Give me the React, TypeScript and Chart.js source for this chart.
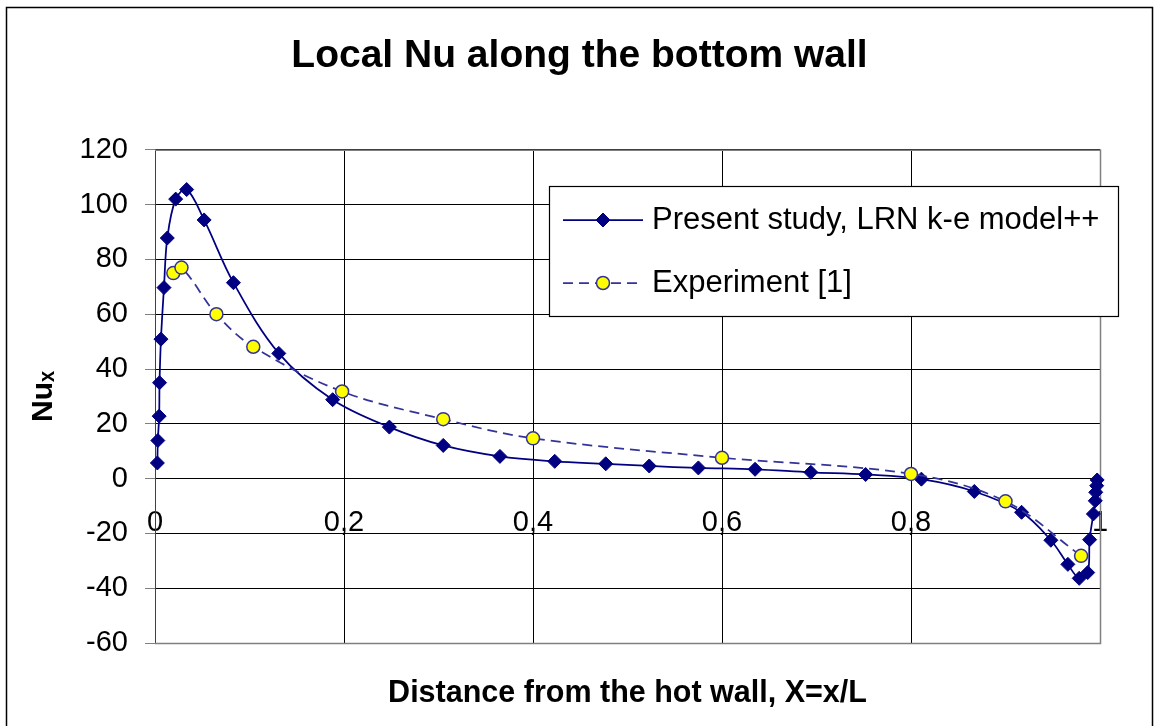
import React, { useEffect, useRef } from 'react';
import { Chart, registerables } from 'chart.js';

Chart.register(...registerables);

// ---- data ----
const presentX = [
  0.0025, 0.003, 0.0044, 0.0048, 0.0063, 0.0095, 0.013, 0.0219, 0.0335, 0.052,
  0.083, 0.131, 0.188, 0.248, 0.305, 0.365, 0.423, 0.477, 0.523, 0.575,
  0.635, 0.694, 0.752, 0.811, 0.867, 0.917, 0.948, 0.966, 0.978, 0.987,
  0.989, 0.993, 0.995, 0.9955, 0.9965, 0.997,
];
const presentY = [
  5.7, 13.9, 22.8, 35, 50.9, 69.7, 87.8, 102, 105.5, 94.4,
  71.5, 45.7, 28.8, 18.8, 12.1, 8.1, 6.3, 5.4, 4.6, 3.9,
  3.4, 2.3, 1.5, -0.2, -4.7, -12.3, -22.5, -31.3, -36.4, -34.3,
  -22.3, -12.9, -8.1, -5.0, -2.6, -0.5,
];
const experimentX = [0.0194, 0.028, 0.065, 0.104, 0.198, 0.305, 0.4, 0.6, 0.8, 0.9, 0.98];
const experimentY = [75, 77, 60, 48.1, 31.8, 21.7, 14.7, 7.6, 1.7, -8.3, -28.2];

const xTickLabels = ['0', '0,2', '0,4', '0,6', '0,8', '1'];
const seriesNames = ['Present study, LRN k-e model++', 'Experiment [1]'];
const chartTitle = 'Local Nu along the bottom wall';
const xAxisTitle = 'Distance from the hot wall, X=x/L';
const yAxisTitle = 'Nuₓ';

const FONT = "'Liberation Sans', Arial, sans-serif";
const W = 1159;
const H = 726;

const backgroundPlugin = {
  id: 'bgFrame',
  beforeDraw(chart: any) {
    const ctx = chart.ctx;
    ctx.save();
    ctx.fillStyle = '#ffffff';
    ctx.fillRect(0, 0, chart.width, chart.height);
    ctx.restore();
  },
  beforeDatasetsDraw(chart: any) {
    const { ctx, chartArea } = chart;
    ctx.save();
    ctx.strokeStyle = '#808080';
    ctx.lineWidth = 1.5;
    ctx.beginPath();
    ctx.moveTo(chartArea.left, chartArea.top + 0.5);
    ctx.lineTo(chartArea.right + 0.5, chartArea.top + 0.5);
    ctx.lineTo(chartArea.right + 0.5, chartArea.bottom + 0.5);
    ctx.lineTo(chartArea.left, chartArea.bottom + 0.5);
    ctx.stroke();
    ctx.restore();
  },
  afterDraw(chart: any) {
    const ctx = chart.ctx;
    ctx.save();
    ctx.strokeStyle = '#000000';
    ctx.lineWidth = 1.5;
    ctx.strokeRect(6.5, 7.5, chart.width - 13, chart.height + 20);
    ctx.restore();
  },
};

const legendPlugin = {
  id: 'boxLegend',
  afterDraw(chart: any) {
    const ctx = chart.ctx;
    const boxL = 549;
    const boxT = 186;
    const boxW = 569;
    const boxH = 130;
    ctx.save();
    ctx.fillStyle = '#ffffff';
    ctx.fillRect(boxL, boxT, boxW, boxH);
    ctx.strokeStyle = '#000000';
    ctx.lineWidth = 1.2;
    ctx.strokeRect(boxL + 0.5, boxT + 0.5, boxW, boxH);

    const rows = [220, 283];
    chart.data.datasets.forEach((ds: any, i: number) => {
      const y = rows[i];
      const x0 = 563;
      const x1 = 643;
      const xm = (x0 + x1) / 2;
      ctx.strokeStyle = ds.borderColor;
      ctx.lineWidth = ds.borderWidth;
      ctx.setLineDash(ds.borderDash || []);
      ctx.beginPath();
      ctx.moveTo(x0, y);
      ctx.lineTo(x1, y);
      ctx.stroke();
      ctx.setLineDash([]);
      ctx.fillStyle = ds.pointBackgroundColor;
      ctx.strokeStyle = ds.pointBorderColor;
      ctx.lineWidth = ds.pointBorderWidth;
      const r = ds.pointRadius;
      ctx.beginPath();
      if (ds.pointStyle === 'rectRot') {
        ctx.moveTo(xm - r, y);
        ctx.lineTo(xm, y - r);
        ctx.lineTo(xm + r, y);
        ctx.lineTo(xm, y + r);
        ctx.closePath();
      } else {
        ctx.arc(xm, y, r, 0, Math.PI * 2);
      }
      ctx.fill();
      ctx.stroke();
      ctx.fillStyle = '#000000';
      ctx.font = `31px ${FONT}`;
      ctx.textAlign = 'left';
      ctx.textBaseline = 'middle';
      ctx.fillText(ds.label, 652, y);
    });
    ctx.restore();
  },
};

export default function App() {
  const canvasRef = useRef<HTMLCanvasElement | null>(null);

  useEffect(() => {
    if (!canvasRef.current) return;
    const chart = new Chart(canvasRef.current, {
      type: 'line',
      data: {
        datasets: [
          {
            label: seriesNames[0],
            data: presentX.map((x, i) => ({ x, y: presentY[i] })),
            borderColor: '#000080',
            backgroundColor: '#000080',
            borderWidth: 1.75,
            pointStyle: 'rectRot',
            pointRadius: 7,
            pointBackgroundColor: '#000080',
            pointBorderColor: '#000080',
            pointBorderWidth: 1,
            tension: 0.35,
            clip: false,
            order: 2,
          } as any,
          {
            label: seriesNames[1],
            data: experimentX.map((x, i) => ({ x, y: experimentY[i] })),
            borderColor: '#333399',
            backgroundColor: '#FFFF00',
            borderWidth: 1.75,
            borderDash: [10, 6],
            pointStyle: 'circle',
            pointRadius: 6.5,
            pointBackgroundColor: '#FFFF00',
            pointBorderColor: '#333399',
            pointBorderWidth: 1.5,
            tension: 0.35,
            clip: false,
            order: 1,
          } as any,
        ],
      },
      options: {
        responsive: false,
        animation: false,
        events: [],
        layout: { padding: 0 },
        plugins: {
          legend: { display: false },
          tooltip: { enabled: false },
          title: {
            display: true,
            text: chartTitle,
            color: '#000000',
            font: { family: FONT, size: 39, weight: 'bold' },
            padding: { top: 33, bottom: 70 },
          },
        },
        scales: {
          x: {
            type: 'linear',
            position: { y: 0 } as any,
            min: 0,
            max: 1,
            ticks: {
              stepSize: 0.2,
              autoSkip: false,
              maxRotation: 0,
              color: '#000000',
              padding: 27,
              font: { family: FONT, size: 29 },
              callback: (_v: any, index: number) => xTickLabels[index],
            },
            grid: { color: '#000000', lineWidth: 1, drawTicks: false },
            border: { display: true, color: '#000000', width: 1 },
          },
          xTitle: {
            type: 'linear',
            axis: 'x',
            position: 'bottom',
            min: 0,
            max: 1,
            ticks: { display: false },
            grid: { display: false, drawTicks: false },
            border: { display: false },
            title: {
              display: true,
              text: xAxisTitle,
              color: '#000000',
              font: { family: FONT, size: 30.5, weight: 'bold' },
              padding: { top: 0, bottom: 14 },
            },
            afterFit: (scale: any) => {
              scale.height = 83;
            },
          } as any,
          y: {
            type: 'linear',
            min: -60,
            max: 120,
            ticks: {
              stepSize: 20,
              color: '#000000',
              padding: 17,
              font: { family: FONT, size: 29 },
            },
            grid: { color: '#000000', lineWidth: 1, tickLength: 10, tickColor: '#808080' },
            border: { display: true, color: '#404040', width: 1 },
            title: {
              display: true,
              text: yAxisTitle,
              color: '#000000',
              font: { family: FONT, size: 30, weight: 'bold' },
              padding: { top: 26, bottom: 0 },
            },
            afterFit: (scale: any) => {
              scale.width = 155;
            },
          },
          yRight: {
            type: 'linear',
            axis: 'y',
            position: 'right',
            min: -60,
            max: 120,
            ticks: { display: false },
            grid: { display: false, drawTicks: false },
            border: { display: false },
            afterFit: (scale: any) => {
              scale.width = 59;
            },
          } as any,
        },
      },
      plugins: [backgroundPlugin, legendPlugin],
    });
    return () => chart.destroy();
  }, []);

  return (
    <div style={{ position: 'absolute', left: 0, top: 0, width: W, height: H }}>
      <canvas ref={canvasRef} width={W} height={H} style={{ display: 'block' }} />
    </div>
  );
}
